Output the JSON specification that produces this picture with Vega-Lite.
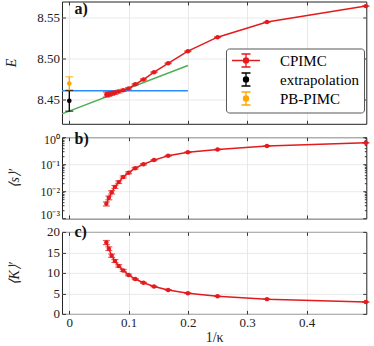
{
  "$schema": "https://vega.github.io/schema/vega-lite/v6.json",
  "autosize": {"type": "pad"},
  "padding": {"left": 4, "top": 0.5, "right": 0, "bottom": 0},
  "background": "white",
  "config": {
    "font": "Liberation Serif",
    "view": {"stroke": "#222222", "strokeWidth": 1},
    "axis": {"domain": false, "tickColor": "#222222", "tickSize": -3.5, "tickWidth": 0.9, "grid": false, "gridColor": "#e3e3e3", "gridWidth": 0.8, "labelFont": "Liberation Serif", "labelFontSize": 13, "labelColor": "#222222", "labelPadding": 6, "titleFont": "Liberation Serif", "titleFontSize": 14, "titleFontWeight": "normal", "titleColor": "#222222"},
    "title": {"font": "Liberation Serif", "fontSize": 16, "fontWeight": "bold", "color": "#111111", "anchor": "start", "frame": "group", "offset": 0, "baseline": "alphabetic"}
  },
  "datasets": {
    "cpimc": [
      {"x": 0.0625, "E": 8.4560, "Eerr": 0.003, "s": 0.0035, "serr": 0.0006, "K": 17.4, "Kerr": 0.5, "series": "CPIMC"},
      {"x": 0.06667, "E": 8.4565, "Eerr": 0.0027, "s": 0.0058, "serr": 0.0009, "K": 15.9, "Kerr": 0.45, "series": "CPIMC"},
      {"x": 0.07143, "E": 8.4573, "Eerr": 0.0023, "s": 0.0093, "serr": 0.0013, "K": 14.2, "Kerr": 0.4, "series": "CPIMC"},
      {"x": 0.07692, "E": 8.4583, "Eerr": 0.002, "s": 0.0147, "serr": 0.0018, "K": 12.9, "Kerr": 0.35, "series": "CPIMC"},
      {"x": 0.08333, "E": 8.4596, "Eerr": 0.0016, "s": 0.022, "serr": 0.0024, "K": 11.7, "Kerr": 0.3, "series": "CPIMC"},
      {"x": 0.09091, "E": 8.4612, "Eerr": 0.0013, "s": 0.034, "serr": 0.003, "K": 10.6, "Kerr": 0.25, "series": "CPIMC"},
      {"x": 0.1, "E": 8.4635, "Eerr": 0.001, "s": 0.049, "serr": 0.004, "K": 9.5, "Kerr": 0.2, "series": "CPIMC"},
      {"x": 0.11111, "E": 8.4685, "Eerr": 0.0008, "s": 0.072, "serr": 0.005, "K": 8.5, "Kerr": 0.15, "series": "CPIMC"},
      {"x": 0.125, "E": 8.4743, "Eerr": 0.0007, "s": 0.1, "serr": 0.006, "K": 7.6, "Kerr": 0.12, "series": "CPIMC"},
      {"x": 0.14286, "E": 8.4832, "Eerr": 0.0006, "s": 0.143, "serr": 0.007, "K": 6.7, "Kerr": 0.1, "series": "CPIMC"},
      {"x": 0.16667, "E": 8.494, "Eerr": 0.0005, "s": 0.205, "serr": 0.008, "K": 5.85, "Kerr": 0.08, "series": "CPIMC"},
      {"x": 0.2, "E": 8.5087, "Eerr": 0.0005, "s": 0.28, "serr": 0.01, "K": 5.05, "Kerr": 0.08, "series": "CPIMC"},
      {"x": 0.25, "E": 8.5257, "Eerr": 0.0004, "s": 0.35, "serr": 0.01, "K": 4.3, "Kerr": 0.06, "series": "CPIMC"},
      {"x": 0.33333, "E": 8.544, "Eerr": 0.0004, "s": 0.47, "serr": 0.012, "K": 3.6, "Kerr": 0.05, "series": "CPIMC"},
      {"x": 0.5, "E": 8.5634, "Eerr": 0.0004, "s": 0.62, "serr": 0.015, "K": 2.9, "Kerr": 0.05, "series": "CPIMC"}
    ],
    "ref": [
      {"x": 0, "E": 8.4484, "Eerr": 0.0126, "series": "extrapolation"},
      {"x": 0, "E": 8.4693, "Eerr": 0.0083, "series": "PB-PIMC"}
    ],
    "blue": [{"x": -0.0123, "xend": 0.2, "E": 8.4605}],
    "green": [{"x": -0.0123, "E": 8.4325}, {"x": 0.2, "E": 8.4913}]
  },
  "bounds": "flush",
  "spacing": 12.7,
  "vconcat": [
    {
      "width": 304.3,
      "height": 122.3,
      "title": {"text": "a)", "dx": 12.5, "dy": 20},
      "data": {"name": "cpimc"},
      "resolve": {"axis": {"x": "independent", "y": "independent"}},
      "encoding": {
        "x": {"field": "x", "type": "quantitative", "scale": {"domain": [-0.0123, 0.5008], "nice": false, "zero": false}, "axis": null},
        "y": {"field": "E", "type": "quantitative", "scale": {"domain": [8.4205, 8.569], "nice": false, "zero": false}, "axis": null}
      },
      "layer": [
        {
          "mark": {"type": "point", "opacity": 0},
          "encoding": {
            "x": {"field": "x", "type": "quantitative", "scale": {"domain": [-0.0123, 0.5008], "nice": false, "zero": false}, "axis": {"orient": "bottom", "values": [0, 0.1, 0.2, 0.3, 0.4], "labels": false, "grid": true, "title": null}},
            "y": {"field": "E", "type": "quantitative", "scale": {"domain": [8.4205, 8.569], "nice": false, "zero": false}, "axis": {"orient": "left", "values": [8.45, 8.5, 8.55], "format": ".2f", "grid": true, "title": "E", "titleFontStyle": "italic", "titleX": -50, "titleY": 61, "titleAngle": -90, "titleBaseline": "middle", "titleAlign": "center"}}
          }
        },
        {
          "mark": {"type": "point", "opacity": 0},
          "encoding": {
            "x": {"field": "x", "type": "quantitative", "axis": {"orient": "top", "values": [0, 0.1, 0.2, 0.3, 0.4], "labels": false, "title": null}},
            "y": {"field": "E", "type": "quantitative", "axis": {"orient": "right", "values": [8.45, 8.5, 8.55], "labels": false, "title": null}}
          }
        },
        {
          "data": {"name": "blue"},
          "mark": {"type": "rule", "color": "#2b8cff", "strokeWidth": 1.5},
          "encoding": {"x2": {"field": "xend"}}
        },
        {
          "data": {"name": "green"},
          "mark": {"type": "line", "color": "#4caf50", "strokeWidth": 1.5},
          "encoding": {}
        },
        {
          "mark": {"type": "line", "strokeWidth": 1.5},
          "encoding": {
            "color": {"field": "series", "type": "nominal", "scale": {"domain": ["CPIMC", "extrapolation", "PB-PIMC"], "range": ["#e41a1c", "black", "#ffa500"]},
              "legend": {
                "orient": "none", "legendX": 164, "legendY": 47, "title": null,
                "padding": 4, "fillColor": "white", "strokeColor": "#555555", "cornerRadius": 3,
                "symbolSize": 196, "rowPadding": -1, "labelOffset": 26, "symbolOffset": 8,
                "labelFont": "Liberation Serif", "labelFontSize": 15, "labelColor": "black", "labelLimit": 200,
                "labelExpr": "datum.label + '  '",
                "encode": {"symbols": {"update": {
                  "shape": {"signal": "datum.value === 'CPIMC' ? 'M-2,0H2M0,-0.93V0.93M-0.64,-0.93H0.64M-0.64,0.93H0.64M0.36,0A0.36,0.36,0,1,1,-0.36,0A0.36,0.36,0,1,1,0.36,0Z' : 'M0,-0.93V0.93M-0.64,-0.93H0.64M-0.64,0.93H0.64M0.36,0A0.36,0.36,0,1,1,-0.36,0A0.36,0.36,0,1,1,0.36,0Z'"},
                  "fill": {"signal": "datum.value === 'CPIMC' ? '#e41a1c' : datum.value === 'extrapolation' ? 'black' : '#ffa500'"},
                  "stroke": {"signal": "datum.value === 'CPIMC' ? '#e41a1c' : datum.value === 'extrapolation' ? 'black' : '#ffa500'"},
                  "strokeWidth": {"value": 1.3},
                  "opacity": {"value": 1}
                }}}
              }
            }
          }
        },
        {
          "mark": {"type": "errorbar", "ticks": {"size": 7, "thickness": 1.2}, "thickness": 1.2},
          "encoding": {
            "yError": {"field": "Eerr"},
            "color": {"field": "series", "type": "nominal", "scale": {"domain": ["CPIMC", "extrapolation", "PB-PIMC"], "range": ["#e41a1c", "black", "#ffa500"]}}
          }
        },
        {
          "mark": {"type": "circle", "size": 20, "opacity": 1},
          "encoding": {
            "color": {"field": "series", "type": "nominal", "scale": {"domain": ["CPIMC", "extrapolation", "PB-PIMC"], "range": ["#e41a1c", "black", "#ffa500"]}}
          }
        },
        {
          "data": {"name": "ref"},
          "mark": {"type": "errorbar", "ticks": {"size": 8, "thickness": 1.3}, "thickness": 1.3},
          "encoding": {
            "yError": {"field": "Eerr"},
            "color": {"field": "series", "type": "nominal", "scale": {"domain": ["CPIMC", "extrapolation", "PB-PIMC"], "range": ["#e41a1c", "black", "#ffa500"]}}
          }
        },
        {
          "data": {"name": "ref"},
          "mark": {"type": "circle", "size": 22, "opacity": 1},
          "encoding": {
            "color": {"field": "series", "type": "nominal", "scale": {"domain": ["CPIMC", "extrapolation", "PB-PIMC"], "range": ["#e41a1c", "black", "#ffa500"]}}
          }
        }
      ]
    },
    {
      "width": 304.3,
      "height": 81.3,
      "title": {"text": "b)", "dx": 12.5, "dy": 17.5},
      "data": {"name": "cpimc"},
      "resolve": {"axis": {"x": "independent", "y": "independent"}},
      "encoding": {
        "x": {"field": "x", "type": "quantitative", "scale": {"domain": [-0.0123, 0.5008], "nice": false, "zero": false}, "axis": null},
        "y": {"field": "s", "type": "quantitative", "scale": {"type": "log", "domain": [0.001, 1], "nice": false}, "axis": null}
      },
      "layer": [
        {
          "mark": {"type": "point", "opacity": 0},
          "encoding": {
            "x": {"field": "x", "type": "quantitative", "scale": {"domain": [-0.0123, 0.5008], "nice": false, "zero": false}, "axis": {"orient": "bottom", "values": [0, 0.1, 0.2, 0.3, 0.4], "labels": false, "grid": true, "title": null}},
            "y": {"field": "s", "type": "quantitative", "scale": {"type": "log", "domain": [0.001, 1], "nice": false}, "axis": {"orient": "left", "values": [0.001, 0.01, 0.1, 1], "labelExpr": "datum.value >= 0.99 ? '10⁰' : datum.value >= 0.099 ? '10⁻¹' : datum.value >= 0.0099 ? '10⁻²' : '10⁻³'", "labelFontSize": 12, "labelFlush": true, "labelFlushOffset": 3, "grid": true, "title": "⟨s⟩′", "titleFontStyle": "italic", "titleX": -47, "titleY": 40.6, "titleAngle": -90, "titleBaseline": "middle", "titleAlign": "center"}}
          }
        },
        {
          "mark": {"type": "point", "opacity": 0},
          "encoding": {
            "x": {"field": "x", "type": "quantitative", "axis": {"orient": "top", "values": [0, 0.1, 0.2, 0.3, 0.4], "labels": false, "title": null}},
            "y": {"field": "s", "type": "quantitative", "axis": {"orient": "right", "values": [0.001, 0.01, 0.1, 1], "labels": false, "title": null}}
          }
        },
        {
          "mark": {"type": "point", "opacity": 0},
          "encoding": {
            "y": {"field": "s", "type": "quantitative", "axis": {"orient": "left", "values": [0.002, 0.003, 0.004, 0.005, 0.006, 0.007, 0.008, 0.009, 0.02, 0.03, 0.04, 0.05, 0.06, 0.07, 0.08, 0.09, 0.2, 0.3, 0.4, 0.5, 0.6, 0.7, 0.8, 0.9], "labels": false, "tickSize": -2, "title": null}}
          }
        },
        {
          "mark": {"type": "point", "opacity": 0},
          "encoding": {
            "y": {"field": "s", "type": "quantitative", "axis": {"orient": "right", "values": [0.002, 0.003, 0.004, 0.005, 0.006, 0.007, 0.008, 0.009, 0.02, 0.03, 0.04, 0.05, 0.06, 0.07, 0.08, 0.09, 0.2, 0.3, 0.4, 0.5, 0.6, 0.7, 0.8, 0.9], "labels": false, "tickSize": -2, "title": null}}
          }
        },
        {"mark": {"type": "line", "color": "#e41a1c", "strokeWidth": 1.5}, "encoding": {}},
        {
          "mark": {"type": "errorbar", "color": "#e41a1c", "ticks": {"size": 7, "thickness": 1.2}, "thickness": 1.2},
          "encoding": {"yError": {"field": "serr"}}
        },
        {"mark": {"type": "circle", "size": 20, "color": "#e41a1c", "opacity": 1}, "encoding": {}}
      ]
    },
    {
      "width": 304.3,
      "height": 82,
      "title": {"text": "c)", "dx": 12.5, "dy": 18.5},
      "data": {"name": "cpimc"},
      "resolve": {"axis": {"x": "independent", "y": "independent"}},
      "encoding": {
        "x": {"field": "x", "type": "quantitative", "scale": {"domain": [-0.0123, 0.5008], "nice": false, "zero": false}, "axis": null},
        "y": {"field": "K", "type": "quantitative", "scale": {"domain": [0, 20], "nice": false}, "axis": null}
      },
      "layer": [
        {
          "mark": {"type": "point", "opacity": 0},
          "encoding": {
            "x": {"field": "x", "type": "quantitative", "scale": {"domain": [-0.0123, 0.5008], "nice": false, "zero": false}, "axis": {"orient": "bottom", "values": [0, 0.1, 0.2, 0.3, 0.4], "labelExpr": "datum.value === 0 ? '0' : format(datum.value, '.1f')", "labelPadding": 6, "grid": true, "title": "1/κ", "titlePadding": 1}},
            "y": {"field": "K", "type": "quantitative", "scale": {"domain": [0, 20], "nice": false}, "axis": {"orient": "left", "values": [0, 5, 10, 15, 20], "grid": true, "title": "⟨K⟩′", "titleFontStyle": "italic", "titleX": -47, "titleY": 41, "titleAngle": -90, "titleBaseline": "middle", "titleAlign": "center"}}
          }
        },
        {
          "mark": {"type": "point", "opacity": 0},
          "encoding": {
            "x": {"field": "x", "type": "quantitative", "axis": {"orient": "top", "values": [0, 0.1, 0.2, 0.3, 0.4], "labels": false, "title": null}},
            "y": {"field": "K", "type": "quantitative", "axis": {"orient": "right", "values": [0, 5, 10, 15, 20], "labels": false, "title": null}}
          }
        },
        {"mark": {"type": "line", "color": "#e41a1c", "strokeWidth": 1.5}, "encoding": {}},
        {
          "mark": {"type": "errorbar", "color": "#e41a1c", "ticks": {"size": 7, "thickness": 1.2}, "thickness": 1.2},
          "encoding": {"yError": {"field": "Kerr"}}
        },
        {"mark": {"type": "circle", "size": 20, "color": "#e41a1c", "opacity": 1}, "encoding": {}}
      ]
    }
  ]
}
